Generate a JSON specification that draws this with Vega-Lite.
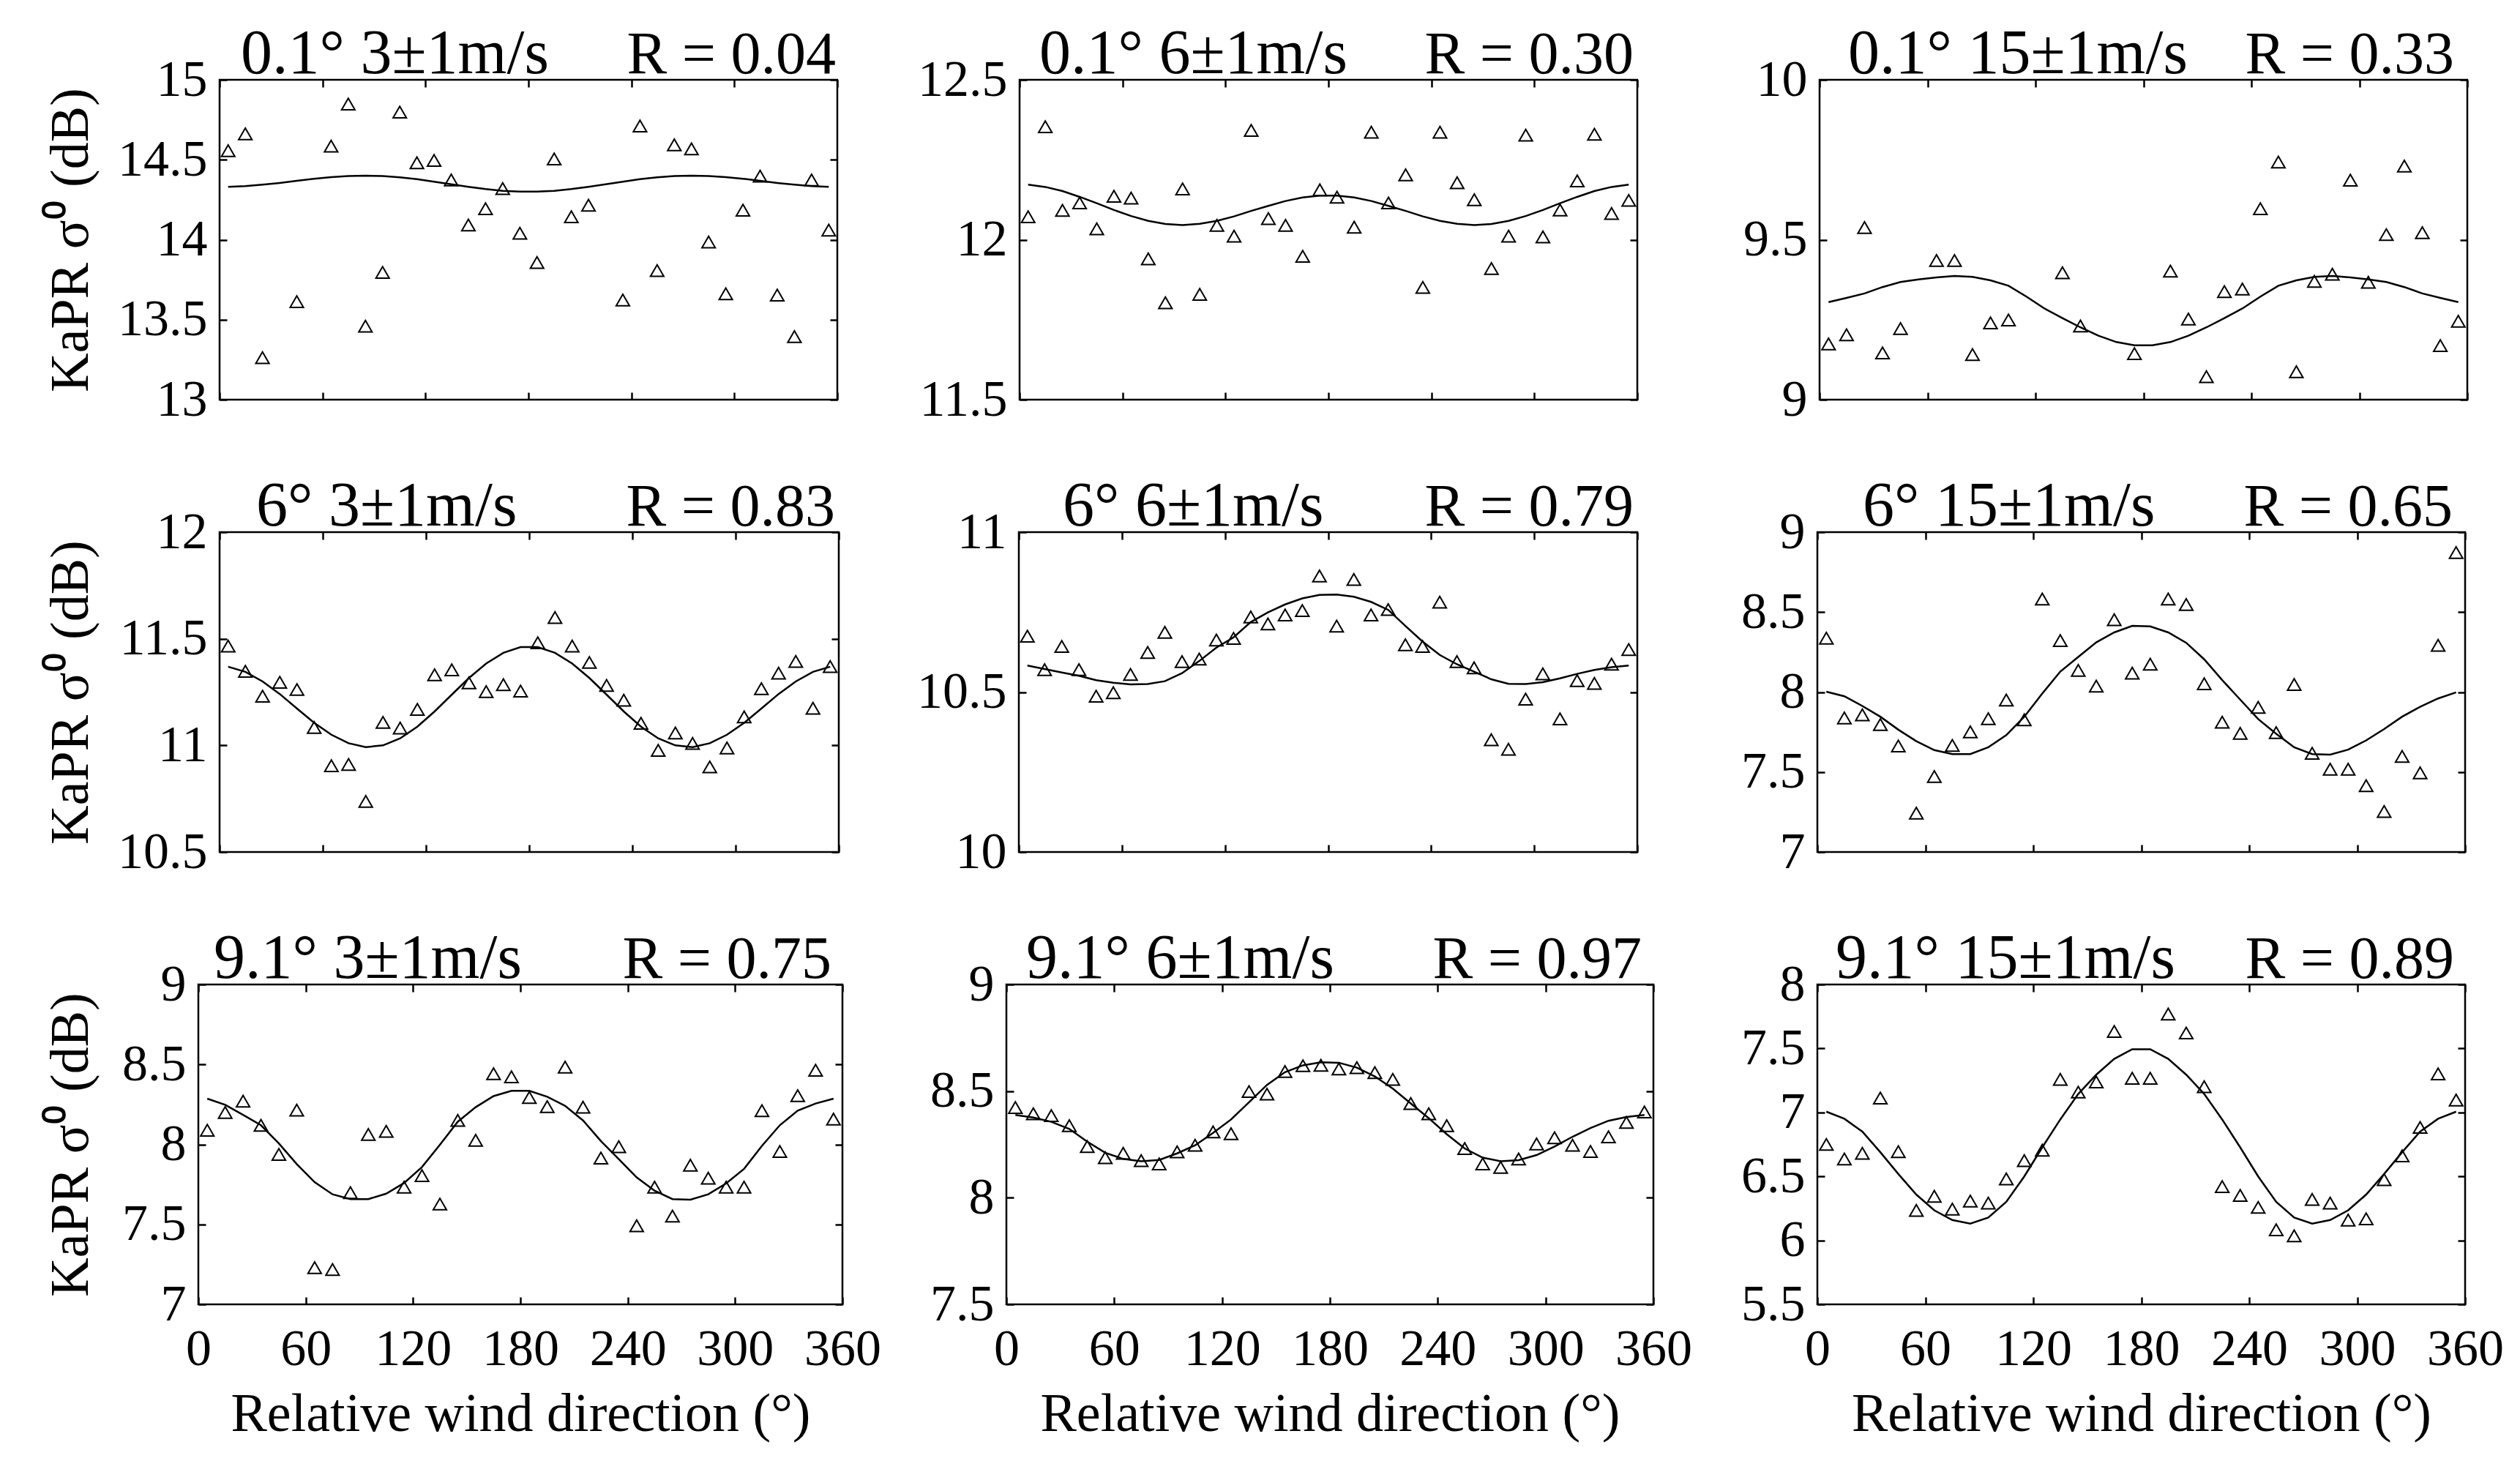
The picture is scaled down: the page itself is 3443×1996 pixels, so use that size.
{
  "$schema": "https://vega.github.io/schema/vega-lite/v6.json",
  "background": "white",
  "padding": {"left": 0, "top": 29, "right": 0, "bottom": 0},
  "datasets": {
    "pts1": [{"dir":5,"s":14.557},{"dir":15,"s":14.662},{"dir":25,"s":13.263},{"dir":45,"s":13.613},{"dir":65,"s":14.585},{"dir":75,"s":14.848},{"dir":85,"s":13.459},{"dir":95,"s":13.796},{"dir":105,"s":14.798},{"dir":115,"s":14.481},{"dir":125,"s":14.496},{"dir":135,"s":14.374},{"dir":145,"s":14.092},{"dir":155,"s":14.194},{"dir":165,"s":14.32},{"dir":175,"s":14.041},{"dir":185,"s":13.858},{"dir":195,"s":14.505},{"dir":205,"s":14.144},{"dir":215,"s":14.216},{"dir":235,"s":13.623},{"dir":245,"s":14.711},{"dir":255,"s":13.807},{"dir":265,"s":14.593},{"dir":275,"s":14.568},{"dir":285,"s":13.986},{"dir":295,"s":13.662},{"dir":305,"s":14.185},{"dir":315,"s":14.398},{"dir":325,"s":13.654},{"dir":335,"s":13.394},{"dir":345,"s":14.374},{"dir":355,"s":14.06}],
    "fit1": [{"dir":5,"s":14.331},{"dir":15,"s":14.335},{"dir":25,"s":14.344},{"dir":35,"s":14.355},{"dir":45,"s":14.368},{"dir":55,"s":14.381},{"dir":65,"s":14.391},{"dir":75,"s":14.398},{"dir":85,"s":14.401},{"dir":95,"s":14.398},{"dir":105,"s":14.39},{"dir":115,"s":14.379},{"dir":125,"s":14.363},{"dir":135,"s":14.347},{"dir":145,"s":14.331},{"dir":155,"s":14.317},{"dir":165,"s":14.306},{"dir":175,"s":14.301},{"dir":185,"s":14.301},{"dir":195,"s":14.306},{"dir":205,"s":14.317},{"dir":215,"s":14.331},{"dir":225,"s":14.347},{"dir":235,"s":14.363},{"dir":245,"s":14.379},{"dir":255,"s":14.39},{"dir":265,"s":14.398},{"dir":275,"s":14.401},{"dir":285,"s":14.398},{"dir":295,"s":14.391},{"dir":305,"s":14.381},{"dir":315,"s":14.368},{"dir":325,"s":14.355},{"dir":335,"s":14.344},{"dir":345,"s":14.335},{"dir":355,"s":14.331}],
    "pts2": [{"dir":5,"s":12.072},{"dir":15,"s":12.353},{"dir":25,"s":12.092},{"dir":35,"s":12.115},{"dir":45,"s":12.034},{"dir":55,"s":12.136},{"dir":65,"s":12.13},{"dir":75,"s":11.94},{"dir":85,"s":11.803},{"dir":95,"s":12.159},{"dir":105,"s":11.829},{"dir":115,"s":12.045},{"dir":125,"s":12.011},{"dir":135,"s":12.342},{"dir":145,"s":12.066},{"dir":155,"s":12.045},{"dir":165,"s":11.948},{"dir":175,"s":12.156},{"dir":185,"s":12.133},{"dir":195,"s":12.039},{"dir":205,"s":12.336},{"dir":215,"s":12.115},{"dir":225,"s":12.203},{"dir":235,"s":11.851},{"dir":245,"s":12.336},{"dir":255,"s":12.178},{"dir":265,"s":12.125},{"dir":275,"s":11.91},{"dir":285,"s":12.011},{"dir":295,"s":12.327},{"dir":305,"s":12.009},{"dir":315,"s":12.093},{"dir":325,"s":12.184},{"dir":335,"s":12.33},{"dir":345,"s":12.082},{"dir":355,"s":12.123}],
    "fit2": [{"dir":5,"s":12.172},{"dir":15,"s":12.165},{"dir":25,"s":12.152},{"dir":35,"s":12.134},{"dir":45,"s":12.114},{"dir":55,"s":12.093},{"dir":65,"s":12.074},{"dir":75,"s":12.059},{"dir":85,"s":12.049},{"dir":95,"s":12.046},{"dir":105,"s":12.05},{"dir":115,"s":12.059},{"dir":125,"s":12.073},{"dir":135,"s":12.09},{"dir":145,"s":12.106},{"dir":155,"s":12.121},{"dir":165,"s":12.132},{"dir":175,"s":12.138},{"dir":185,"s":12.138},{"dir":195,"s":12.132},{"dir":205,"s":12.121},{"dir":215,"s":12.106},{"dir":225,"s":12.09},{"dir":235,"s":12.073},{"dir":245,"s":12.059},{"dir":255,"s":12.05},{"dir":265,"s":12.046},{"dir":275,"s":12.049},{"dir":285,"s":12.059},{"dir":295,"s":12.074},{"dir":305,"s":12.093},{"dir":315,"s":12.114},{"dir":325,"s":12.134},{"dir":335,"s":12.152},{"dir":345,"s":12.165},{"dir":355,"s":12.172}],
    "pts3": [{"dir":5,"s":9.174},{"dir":15,"s":9.203},{"dir":25,"s":9.538},{"dir":35,"s":9.146},{"dir":45,"s":9.222},{"dir":65,"s":9.435},{"dir":75,"s":9.435},{"dir":85,"s":9.141},{"dir":95,"s":9.24},{"dir":105,"s":9.249},{"dir":135,"s":9.397},{"dir":145,"s":9.23},{"dir":175,"s":9.144},{"dir":195,"s":9.402},{"dir":205,"s":9.252},{"dir":215,"s":9.072},{"dir":225,"s":9.338},{"dir":235,"s":9.346},{"dir":245,"s":9.597},{"dir":255,"s":9.743},{"dir":265,"s":9.087},{"dir":275,"s":9.37},{"dir":285,"s":9.392},{"dir":295,"s":9.686},{"dir":305,"s":9.367},{"dir":315,"s":9.516},{"dir":325,"s":9.73},{"dir":335,"s":9.522},{"dir":345,"s":9.169},{"dir":355,"s":9.245}],
    "fit3": [{"dir":5,"s":9.305},{"dir":15,"s":9.318},{"dir":25,"s":9.332},{"dir":35,"s":9.352},{"dir":45,"s":9.368},{"dir":55,"s":9.376},{"dir":65,"s":9.382},{"dir":75,"s":9.387},{"dir":85,"s":9.384},{"dir":95,"s":9.373},{"dir":105,"s":9.356},{"dir":115,"s":9.322},{"dir":125,"s":9.285},{"dir":135,"s":9.255},{"dir":145,"s":9.226},{"dir":155,"s":9.2},{"dir":165,"s":9.18},{"dir":175,"s":9.17},{"dir":185,"s":9.17},{"dir":195,"s":9.18},{"dir":205,"s":9.2},{"dir":215,"s":9.226},{"dir":225,"s":9.255},{"dir":235,"s":9.285},{"dir":245,"s":9.322},{"dir":255,"s":9.356},{"dir":265,"s":9.373},{"dir":275,"s":9.384},{"dir":285,"s":9.387},{"dir":295,"s":9.382},{"dir":305,"s":9.376},{"dir":315,"s":9.368},{"dir":325,"s":9.352},{"dir":335,"s":9.332},{"dir":345,"s":9.318},{"dir":355,"s":9.305}],
    "pts4": [{"dir":5,"s":11.466},{"dir":15,"s":11.347},{"dir":25,"s":11.231},{"dir":35,"s":11.296},{"dir":45,"s":11.262},{"dir":55,"s":11.084},{"dir":65,"s":10.905},{"dir":75,"s":10.911},{"dir":85,"s":10.737},{"dir":95,"s":11.108},{"dir":105,"s":11.081},{"dir":115,"s":11.169},{"dir":125,"s":11.331},{"dir":135,"s":11.354},{"dir":145,"s":11.293},{"dir":155,"s":11.252},{"dir":165,"s":11.285},{"dir":175,"s":11.255},{"dir":185,"s":11.481},{"dir":195,"s":11.6},{"dir":205,"s":11.466},{"dir":215,"s":11.389},{"dir":225,"s":11.281},{"dir":235,"s":11.212},{"dir":245,"s":11.104},{"dir":255,"s":10.977},{"dir":265,"s":11.058},{"dir":275,"s":11.009},{"dir":285,"s":10.899},{"dir":295,"s":10.988},{"dir":305,"s":11.134},{"dir":315,"s":11.266},{"dir":325,"s":11.339},{"dir":335,"s":11.394},{"dir":345,"s":11.174},{"dir":355,"s":11.37}],
    "fit4": [{"dir":5,"s":11.369},{"dir":15,"s":11.345},{"dir":25,"s":11.3},{"dir":35,"s":11.241},{"dir":45,"s":11.173},{"dir":55,"s":11.106},{"dir":65,"s":11.05},{"dir":75,"s":11.01},{"dir":85,"s":10.992},{"dir":95,"s":11.0},{"dir":105,"s":11.033},{"dir":115,"s":11.088},{"dir":125,"s":11.159},{"dir":135,"s":11.238},{"dir":145,"s":11.316},{"dir":155,"s":11.384},{"dir":165,"s":11.434},{"dir":175,"s":11.461},{"dir":185,"s":11.461},{"dir":195,"s":11.434},{"dir":205,"s":11.384},{"dir":215,"s":11.316},{"dir":225,"s":11.238},{"dir":235,"s":11.159},{"dir":245,"s":11.088},{"dir":255,"s":11.033},{"dir":265,"s":11.0},{"dir":275,"s":10.992},{"dir":285,"s":11.01},{"dir":295,"s":11.05},{"dir":305,"s":11.106},{"dir":315,"s":11.173},{"dir":325,"s":11.241},{"dir":335,"s":11.3},{"dir":345,"s":11.345},{"dir":355,"s":11.369}],
    "pts5": [{"dir":5,"s":10.675},{"dir":15,"s":10.57},{"dir":25,"s":10.643},{"dir":35,"s":10.57},{"dir":45,"s":10.487},{"dir":55,"s":10.498},{"dir":65,"s":10.555},{"dir":75,"s":10.624},{"dir":85,"s":10.687},{"dir":95,"s":10.595},{"dir":105,"s":10.603},{"dir":115,"s":10.663},{"dir":125,"s":10.668},{"dir":135,"s":10.735},{"dir":145,"s":10.713},{"dir":155,"s":10.741},{"dir":165,"s":10.755},{"dir":175,"s":10.863},{"dir":185,"s":10.706},{"dir":195,"s":10.852},{"dir":205,"s":10.741},{"dir":215,"s":10.758},{"dir":225,"s":10.648},{"dir":235,"s":10.643},{"dir":245,"s":10.781},{"dir":255,"s":10.595},{"dir":265,"s":10.576},{"dir":275,"s":10.351},{"dir":285,"s":10.321},{"dir":295,"s":10.478},{"dir":305,"s":10.557},{"dir":315,"s":10.416},{"dir":325,"s":10.536},{"dir":335,"s":10.527},{"dir":345,"s":10.587},{"dir":355,"s":10.633}],
    "fit5": [{"dir":5,"s":10.583},{"dir":15,"s":10.572},{"dir":25,"s":10.561},{"dir":35,"s":10.551},{"dir":45,"s":10.537},{"dir":55,"s":10.529},{"dir":65,"s":10.524},{"dir":75,"s":10.525},{"dir":85,"s":10.534},{"dir":95,"s":10.559},{"dir":105,"s":10.597},{"dir":115,"s":10.639},{"dir":125,"s":10.671},{"dir":135,"s":10.719},{"dir":145,"s":10.749},{"dir":155,"s":10.774},{"dir":165,"s":10.793},{"dir":175,"s":10.804},{"dir":185,"s":10.805},{"dir":195,"s":10.798},{"dir":205,"s":10.782},{"dir":215,"s":10.757},{"dir":225,"s":10.707},{"dir":235,"s":10.658},{"dir":245,"s":10.616},{"dir":255,"s":10.587},{"dir":265,"s":10.564},{"dir":275,"s":10.54},{"dir":285,"s":10.526},{"dir":295,"s":10.525},{"dir":305,"s":10.531},{"dir":315,"s":10.543},{"dir":325,"s":10.557},{"dir":335,"s":10.569},{"dir":345,"s":10.578},{"dir":355,"s":10.583}],
    "pts6": [{"dir":5,"s":8.337},{"dir":15,"s":7.838},{"dir":25,"s":7.858},{"dir":35,"s":7.797},{"dir":45,"s":7.663},{"dir":55,"s":7.243},{"dir":65,"s":7.472},{"dir":75,"s":7.667},{"dir":85,"s":7.751},{"dir":95,"s":7.834},{"dir":105,"s":7.95},{"dir":115,"s":7.827},{"dir":125,"s":8.582},{"dir":135,"s":8.322},{"dir":145,"s":8.136},{"dir":155,"s":8.037},{"dir":165,"s":8.453},{"dir":175,"s":8.118},{"dir":185,"s":8.174},{"dir":195,"s":8.582},{"dir":205,"s":8.548},{"dir":215,"s":8.052},{"dir":225,"s":7.812},{"dir":235,"s":7.742},{"dir":245,"s":7.904},{"dir":255,"s":7.747},{"dir":265,"s":8.047},{"dir":275,"s":7.617},{"dir":285,"s":7.518},{"dir":295,"s":7.518},{"dir":305,"s":7.415},{"dir":315,"s":7.253},{"dir":325,"s":7.598},{"dir":335,"s":7.495},{"dir":345,"s":8.292},{"dir":355,"s":8.872}],
    "fit6": [{"dir":5,"s":8.002},{"dir":15,"s":7.974},{"dir":25,"s":7.913},{"dir":35,"s":7.846},{"dir":45,"s":7.765},{"dir":55,"s":7.693},{"dir":65,"s":7.637},{"dir":75,"s":7.612},{"dir":85,"s":7.612},{"dir":95,"s":7.655},{"dir":105,"s":7.731},{"dir":115,"s":7.846},{"dir":125,"s":7.991},{"dir":135,"s":8.128},{"dir":145,"s":8.22},{"dir":155,"s":8.311},{"dir":165,"s":8.373},{"dir":175,"s":8.414},{"dir":185,"s":8.411},{"dir":195,"s":8.373},{"dir":205,"s":8.308},{"dir":215,"s":8.205},{"dir":225,"s":8.075},{"dir":235,"s":7.953},{"dir":245,"s":7.831},{"dir":255,"s":7.739},{"dir":265,"s":7.655},{"dir":275,"s":7.612},{"dir":285,"s":7.609},{"dir":295,"s":7.64},{"dir":305,"s":7.698},{"dir":315,"s":7.769},{"dir":325,"s":7.846},{"dir":335,"s":7.908},{"dir":345,"s":7.96},{"dir":355,"s":7.998}],
    "pts7": [{"dir":5,"s":8.089},{"dir":15,"s":8.2},{"dir":25,"s":8.271},{"dir":35,"s":8.12},{"dir":45,"s":7.938},{"dir":55,"s":8.215},{"dir":65,"s":7.229},{"dir":75,"s":7.218},{"dir":85,"s":7.698},{"dir":95,"s":8.062},{"dir":105,"s":8.082},{"dir":115,"s":7.733},{"dir":125,"s":7.805},{"dir":135,"s":7.627},{"dir":145,"s":8.15},{"dir":155,"s":8.026},{"dir":165,"s":8.442},{"dir":175,"s":8.423},{"dir":185,"s":8.294},{"dir":195,"s":8.236},{"dir":205,"s":8.483},{"dir":215,"s":8.233},{"dir":225,"s":7.915},{"dir":235,"s":7.986},{"dir":245,"s":7.491},{"dir":255,"s":7.733},{"dir":265,"s":7.552},{"dir":275,"s":7.87},{"dir":285,"s":7.789},{"dir":295,"s":7.733},{"dir":305,"s":7.733},{"dir":315,"s":8.211},{"dir":325,"s":7.956},{"dir":335,"s":8.305},{"dir":345,"s":8.464},{"dir":355,"s":8.158}],
    "fit7": [{"dir":5,"s":8.286},{"dir":15,"s":8.248},{"dir":25,"s":8.185},{"dir":35,"s":8.12},{"dir":45,"s":8.006},{"dir":55,"s":7.877},{"dir":65,"s":7.764},{"dir":75,"s":7.688},{"dir":85,"s":7.658},{"dir":95,"s":7.658},{"dir":105,"s":7.692},{"dir":115,"s":7.759},{"dir":125,"s":7.859},{"dir":135,"s":7.998},{"dir":145,"s":8.142},{"dir":155,"s":8.233},{"dir":165,"s":8.302},{"dir":175,"s":8.335},{"dir":185,"s":8.335},{"dir":195,"s":8.298},{"dir":205,"s":8.241},{"dir":215,"s":8.15},{"dir":225,"s":8.021},{"dir":235,"s":7.908},{"dir":245,"s":7.794},{"dir":255,"s":7.711},{"dir":265,"s":7.658},{"dir":275,"s":7.655},{"dir":285,"s":7.688},{"dir":295,"s":7.756},{"dir":305,"s":7.847},{"dir":315,"s":7.991},{"dir":325,"s":8.12},{"dir":335,"s":8.211},{"dir":345,"s":8.256},{"dir":355,"s":8.286}],
    "pts8": [{"dir":5,"s":8.423},{"dir":15,"s":8.394},{"dir":25,"s":8.385},{"dir":35,"s":8.338},{"dir":45,"s":8.24},{"dir":55,"s":8.188},{"dir":65,"s":8.208},{"dir":75,"s":8.174},{"dir":85,"s":8.159},{"dir":95,"s":8.215},{"dir":105,"s":8.246},{"dir":115,"s":8.309},{"dir":125,"s":8.3},{"dir":135,"s":8.498},{"dir":145,"s":8.486},{"dir":155,"s":8.592},{"dir":165,"s":8.619},{"dir":175,"s":8.621},{"dir":185,"s":8.604},{"dir":195,"s":8.61},{"dir":205,"s":8.587},{"dir":215,"s":8.555},{"dir":225,"s":8.442},{"dir":235,"s":8.394},{"dir":245,"s":8.338},{"dir":255,"s":8.231},{"dir":265,"s":8.159},{"dir":275,"s":8.142},{"dir":285,"s":8.182},{"dir":295,"s":8.252},{"dir":305,"s":8.281},{"dir":315,"s":8.246},{"dir":325,"s":8.217},{"dir":335,"s":8.286},{"dir":345,"s":8.353},{"dir":355,"s":8.402}],
    "fit8": [{"dir":5,"s":8.388},{"dir":15,"s":8.376},{"dir":25,"s":8.356},{"dir":35,"s":8.323},{"dir":45,"s":8.263},{"dir":55,"s":8.211},{"dir":65,"s":8.182},{"dir":75,"s":8.171},{"dir":85,"s":8.177},{"dir":95,"s":8.208},{"dir":105,"s":8.246},{"dir":115,"s":8.304},{"dir":125,"s":8.367},{"dir":135,"s":8.448},{"dir":145,"s":8.529},{"dir":155,"s":8.589},{"dir":165,"s":8.621},{"dir":175,"s":8.635},{"dir":185,"s":8.633},{"dir":195,"s":8.61},{"dir":205,"s":8.569},{"dir":215,"s":8.512},{"dir":225,"s":8.442},{"dir":235,"s":8.373},{"dir":245,"s":8.298},{"dir":255,"s":8.231},{"dir":265,"s":8.188},{"dir":275,"s":8.171},{"dir":285,"s":8.176},{"dir":295,"s":8.2},{"dir":305,"s":8.24},{"dir":315,"s":8.286},{"dir":325,"s":8.327},{"dir":335,"s":8.361},{"dir":345,"s":8.379},{"dir":355,"s":8.388}],
    "pts9": [{"dir":5,"s":6.75},{"dir":15,"s":6.636},{"dir":25,"s":6.68},{"dir":35,"s":7.112},{"dir":45,"s":6.693},{"dir":55,"s":6.235},{"dir":65,"s":6.345},{"dir":75,"s":6.244},{"dir":85,"s":6.307},{"dir":95,"s":6.292},{"dir":105,"s":6.481},{"dir":115,"s":6.623},{"dir":125,"s":6.705},{"dir":135,"s":7.258},{"dir":145,"s":7.159},{"dir":155,"s":7.239},{"dir":165,"s":7.633},{"dir":175,"s":7.267},{"dir":185,"s":7.267},{"dir":195,"s":7.769},{"dir":205,"s":7.621},{"dir":215,"s":7.201},{"dir":225,"s":6.42},{"dir":235,"s":6.352},{"dir":245,"s":6.258},{"dir":255,"s":6.083},{"dir":265,"s":6.036},{"dir":275,"s":6.32},{"dir":285,"s":6.292},{"dir":295,"s":6.159},{"dir":305,"s":6.169},{"dir":315,"s":6.475},{"dir":325,"s":6.661},{"dir":335,"s":6.883},{"dir":345,"s":7.301},{"dir":355,"s":7.097}],
    "fit9": [{"dir":5,"s":7.006},{"dir":15,"s":6.951},{"dir":25,"s":6.85},{"dir":35,"s":6.689},{"dir":45,"s":6.519},{"dir":55,"s":6.358},{"dir":65,"s":6.235},{"dir":75,"s":6.159},{"dir":85,"s":6.131},{"dir":95,"s":6.178},{"dir":105,"s":6.301},{"dir":115,"s":6.5},{"dir":125,"s":6.727},{"dir":135,"s":6.945},{"dir":145,"s":7.144},{"dir":155,"s":7.295},{"dir":165,"s":7.419},{"dir":175,"s":7.494},{"dir":185,"s":7.494},{"dir":195,"s":7.419},{"dir":205,"s":7.295},{"dir":215,"s":7.144},{"dir":225,"s":6.945},{"dir":235,"s":6.727},{"dir":245,"s":6.5},{"dir":255,"s":6.301},{"dir":265,"s":6.178},{"dir":275,"s":6.131},{"dir":285,"s":6.159},{"dir":295,"s":6.235},{"dir":305,"s":6.358},{"dir":315,"s":6.519},{"dir":325,"s":6.689},{"dir":335,"s":6.85},{"dir":345,"s":6.951},{"dir":355,"s":7.006}]
  },
  "concat": [
    {
      "hconcat": [
        {"width": 51, "height": 437, "data": {"values": []}, "mark": {"type": "point"}, "view": {"stroke": null}},
        {
          "width": 844, "height": 437,
          "layer": [
            {"data": {"name": "pts1"}, "mark": {"type": "point"},
             "encoding": {
               "x": {"field": "dir", "type": "quantitative", "scale": {"domain": [0, 360], "nice": false, "zero": false}, "axis": {"orient": "bottom", "values": [0,60,120,180,240,300,360], "labels": false, "title": null}},
               "y": {"field": "s", "type": "quantitative", "scale": {"domain": [13, 15], "nice": false, "zero": false}, "axis": {"orient": "left", "values": [13,13.5,14,14.5,15], "format": "~g", "title": "KaPR σ⁰ (dB)"}}}},
            {"data": {"name": "fit1"}, "mark": {"type": "line"},
             "encoding": {
               "x": {"field": "dir", "type": "quantitative", "axis": {"orient": "top", "values": [0,60,120,180,240,300,360], "labels": false, "title": null}},
               "y": {"field": "s", "type": "quantitative", "axis": {"orient": "right", "values": [13,13.5,14,14.5,15], "labels": false, "title": null}}}},
            {"data": {"values": [{"t": "0.1° 3±1m/s"}]}, "mark": {"type": "text", "align": "left", "dx": 29, "fontSize": 86},
             "encoding": {"x": {"datum": 0, "type": "quantitative", "axis": null}, "y": {"datum": 15, "type": "quantitative", "axis": null}, "text": {"field": "t"}}},
            {"data": {"values": [{"t": "R = 0.04"}]}, "mark": {"type": "text", "align": "right", "dx": -2},
             "encoding": {"x": {"datum": 360, "type": "quantitative", "axis": null}, "y": {"datum": 15, "type": "quantitative", "axis": null}, "text": {"field": "t"}}}
          ],
          "resolve": {"axis": {"x": "independent", "y": "independent"}}
        },
        {
          "width": 844, "height": 437,
          "layer": [
            {"data": {"name": "pts2"}, "mark": {"type": "point"},
             "encoding": {
               "x": {"field": "dir", "type": "quantitative", "scale": {"domain": [0, 360], "nice": false, "zero": false}, "axis": {"orient": "bottom", "values": [0,60,120,180,240,300,360], "labels": false, "title": null}},
               "y": {"field": "s", "type": "quantitative", "scale": {"domain": [11.5, 12.5], "nice": false, "zero": false}, "axis": {"orient": "left", "values": [11.5,12,12.5], "format": "~g", "title": null}}}},
            {"data": {"name": "fit2"}, "mark": {"type": "line"},
             "encoding": {
               "x": {"field": "dir", "type": "quantitative", "axis": {"orient": "top", "values": [0,60,120,180,240,300,360], "labels": false, "title": null}},
               "y": {"field": "s", "type": "quantitative", "axis": {"orient": "right", "values": [11.5,12,12.5], "labels": false, "title": null}}}},
            {"data": {"values": [{"t": "0.1° 6±1m/s"}]}, "mark": {"type": "text", "align": "left", "dx": 27, "fontSize": 86},
             "encoding": {"x": {"datum": 0, "type": "quantitative", "axis": null}, "y": {"datum": 12.5, "type": "quantitative", "axis": null}, "text": {"field": "t"}}},
            {"data": {"values": [{"t": "R = 0.30"}]}, "mark": {"type": "text", "align": "right", "dx": -5},
             "encoding": {"x": {"datum": 360, "type": "quantitative", "axis": null}, "y": {"datum": 12.5, "type": "quantitative", "axis": null}, "text": {"field": "t"}}}
          ],
          "resolve": {"axis": {"x": "independent", "y": "independent"}}
        },
        {
          "width": 885, "height": 437,
          "layer": [
            {"data": {"name": "pts3"}, "mark": {"type": "point"},
             "encoding": {
               "x": {"field": "dir", "type": "quantitative", "scale": {"domain": [0, 360], "nice": false, "zero": false}, "axis": {"orient": "bottom", "values": [0,60,120,180,240,300,360], "labels": false, "title": null}},
               "y": {"field": "s", "type": "quantitative", "scale": {"domain": [9, 10], "nice": false, "zero": false}, "axis": {"orient": "left", "values": [9,9.5,10], "format": "~g", "title": null}}}},
            {"data": {"name": "fit3"}, "mark": {"type": "line"},
             "encoding": {
               "x": {"field": "dir", "type": "quantitative", "axis": {"orient": "top", "values": [0,60,120,180,240,300,360], "labels": false, "title": null}},
               "y": {"field": "s", "type": "quantitative", "axis": {"orient": "right", "values": [9,9.5,10], "labels": false, "title": null}}}},
            {"data": {"values": [{"t": "0.1° 15±1m/s"}]}, "mark": {"type": "text", "align": "left", "dx": 39, "fontSize": 86},
             "encoding": {"x": {"datum": 0, "type": "quantitative", "axis": null}, "y": {"datum": 10, "type": "quantitative", "axis": null}, "text": {"field": "t"}}},
            {"data": {"values": [{"t": "R = 0.33"}]}, "mark": {"type": "text", "align": "right", "dx": -18},
             "encoding": {"x": {"datum": 360, "type": "quantitative", "axis": null}, "y": {"datum": 10, "type": "quantitative", "axis": null}, "text": {"field": "t"}}}
          ],
          "resolve": {"axis": {"x": "independent", "y": "independent"}}
        }
      ],
      "spacing": 249, "bounds": "flush"
    },
    {
      "hconcat": [
        {"width": 54, "height": 437, "data": {"values": []}, "mark": {"type": "point"}, "view": {"stroke": null}},
        {
          "width": 846, "height": 437,
          "layer": [
            {"data": {"name": "pts4"}, "mark": {"type": "point"},
             "encoding": {
               "x": {"field": "dir", "type": "quantitative", "scale": {"domain": [0, 360], "nice": false, "zero": false}, "axis": {"orient": "bottom", "values": [0,60,120,180,240,300,360], "labels": false, "title": null}},
               "y": {"field": "s", "type": "quantitative", "scale": {"domain": [10.5, 12], "nice": false, "zero": false}, "axis": {"orient": "left", "values": [10.5,11,11.5,12], "format": "~g", "title": "KaPR σ⁰ (dB)"}}}},
            {"data": {"name": "fit4"}, "mark": {"type": "line"},
             "encoding": {
               "x": {"field": "dir", "type": "quantitative", "axis": {"orient": "top", "values": [0,60,120,180,240,300,360], "labels": false, "title": null}},
               "y": {"field": "s", "type": "quantitative", "axis": {"orient": "right", "values": [10.5,11,11.5,12], "labels": false, "title": null}}}},
            {"data": {"values": [{"t": "6° 3±1m/s"}]}, "mark": {"type": "text", "align": "left", "dx": 50, "fontSize": 86},
             "encoding": {"x": {"datum": 0, "type": "quantitative", "axis": null}, "y": {"datum": 12, "type": "quantitative", "axis": null}, "text": {"field": "t"}}},
            {"data": {"values": [{"t": "R = 0.83"}]}, "mark": {"type": "text", "align": "right", "dx": -5},
             "encoding": {"x": {"datum": 360, "type": "quantitative", "axis": null}, "y": {"datum": 12, "type": "quantitative", "axis": null}, "text": {"field": "t"}}}
          ],
          "resolve": {"axis": {"x": "independent", "y": "independent"}}
        },
        {
          "width": 845, "height": 437,
          "layer": [
            {"data": {"name": "pts5"}, "mark": {"type": "point"},
             "encoding": {
               "x": {"field": "dir", "type": "quantitative", "scale": {"domain": [0, 360], "nice": false, "zero": false}, "axis": {"orient": "bottom", "values": [0,60,120,180,240,300,360], "labels": false, "title": null}},
               "y": {"field": "s", "type": "quantitative", "scale": {"domain": [10, 11], "nice": false, "zero": false}, "axis": {"orient": "left", "values": [10,10.5,11], "format": "~g", "title": null}}}},
            {"data": {"name": "fit5"}, "mark": {"type": "line"},
             "encoding": {
               "x": {"field": "dir", "type": "quantitative", "axis": {"orient": "top", "values": [0,60,120,180,240,300,360], "labels": false, "title": null}},
               "y": {"field": "s", "type": "quantitative", "axis": {"orient": "right", "values": [10,10.5,11], "labels": false, "title": null}}}},
            {"data": {"values": [{"t": "6° 6±1m/s"}]}, "mark": {"type": "text", "align": "left", "dx": 60, "fontSize": 86},
             "encoding": {"x": {"datum": 0, "type": "quantitative", "axis": null}, "y": {"datum": 11, "type": "quantitative", "axis": null}, "text": {"field": "t"}}},
            {"data": {"values": [{"t": "R = 0.79"}]}, "mark": {"type": "text", "align": "right", "dx": -5},
             "encoding": {"x": {"datum": 360, "type": "quantitative", "axis": null}, "y": {"datum": 11, "type": "quantitative", "axis": null}, "text": {"field": "t"}}}
          ],
          "resolve": {"axis": {"x": "independent", "y": "independent"}}
        },
        {
          "width": 885, "height": 437,
          "layer": [
            {"data": {"name": "pts6"}, "mark": {"type": "point"},
             "encoding": {
               "x": {"field": "dir", "type": "quantitative", "scale": {"domain": [0, 360], "nice": false, "zero": false}, "axis": {"orient": "bottom", "values": [0,60,120,180,240,300,360], "labels": false, "title": null}},
               "y": {"field": "s", "type": "quantitative", "scale": {"domain": [7, 9], "nice": false, "zero": false}, "axis": {"orient": "left", "values": [7,7.5,8,8.5,9], "format": "~g", "title": null}}}},
            {"data": {"name": "fit6"}, "mark": {"type": "line"},
             "encoding": {
               "x": {"field": "dir", "type": "quantitative", "axis": {"orient": "top", "values": [0,60,120,180,240,300,360], "labels": false, "title": null}},
               "y": {"field": "s", "type": "quantitative", "axis": {"orient": "right", "values": [7,7.5,8,8.5,9], "labels": false, "title": null}}}},
            {"data": {"values": [{"t": "6° 15±1m/s"}]}, "mark": {"type": "text", "align": "left", "dx": 62, "fontSize": 86},
             "encoding": {"x": {"datum": 0, "type": "quantitative", "axis": null}, "y": {"datum": 9, "type": "quantitative", "axis": null}, "text": {"field": "t"}}},
            {"data": {"values": [{"t": "R = 0.65"}]}, "mark": {"type": "text", "align": "right", "dx": -17},
             "encoding": {"x": {"datum": 360, "type": "quantitative", "axis": null}, "y": {"datum": 9, "type": "quantitative", "axis": null}, "text": {"field": "t"}}}
          ],
          "resolve": {"axis": {"x": "independent", "y": "independent"}}
        }
      ],
      "spacing": 246, "bounds": "flush"
    },
    {
      "hconcat": [
        {"width": 47, "height": 437, "data": {"values": []}, "mark": {"type": "point"}, "view": {"stroke": null}},
        {
          "width": 880, "height": 437,
          "layer": [
            {"data": {"name": "pts7"}, "mark": {"type": "point"},
             "encoding": {
               "x": {"field": "dir", "type": "quantitative", "scale": {"domain": [0, 360], "nice": false, "zero": false}, "axis": {"orient": "bottom", "values": [0,60,120,180,240,300,360], "title": "Relative wind direction (°)"}},
               "y": {"field": "s", "type": "quantitative", "scale": {"domain": [7, 9], "nice": false, "zero": false}, "axis": {"orient": "left", "values": [7,7.5,8,8.5,9], "format": "~g", "title": "KaPR σ⁰ (dB)", "minExtent": 110.5}}}},
            {"data": {"name": "fit7"}, "mark": {"type": "line"},
             "encoding": {
               "x": {"field": "dir", "type": "quantitative", "axis": {"orient": "top", "values": [0,60,120,180,240,300,360], "labels": false, "title": null}},
               "y": {"field": "s", "type": "quantitative", "axis": {"orient": "right", "values": [7,7.5,8,8.5,9], "labels": false, "title": null}}}},
            {"data": {"values": [{"t": "9.1° 3±1m/s"}]}, "mark": {"type": "text", "align": "left", "dx": 21, "fontSize": 86},
             "encoding": {"x": {"datum": 0, "type": "quantitative", "axis": null}, "y": {"datum": 9, "type": "quantitative", "axis": null}, "text": {"field": "t"}}},
            {"data": {"values": [{"t": "R = 0.75"}]}, "mark": {"type": "text", "align": "right", "dx": -15},
             "encoding": {"x": {"datum": 360, "type": "quantitative", "axis": null}, "y": {"datum": 9, "type": "quantitative", "axis": null}, "text": {"field": "t"}}}
          ],
          "resolve": {"axis": {"x": "independent", "y": "independent"}}
        },
        {
          "width": 884, "height": 437,
          "layer": [
            {"data": {"name": "pts8"}, "mark": {"type": "point"},
             "encoding": {
               "x": {"field": "dir", "type": "quantitative", "scale": {"domain": [0, 360], "nice": false, "zero": false}, "axis": {"orient": "bottom", "values": [0,60,120,180,240,300,360], "title": "Relative wind direction (°)"}},
               "y": {"field": "s", "type": "quantitative", "scale": {"domain": [7.5, 9], "nice": false, "zero": false}, "axis": {"orient": "left", "values": [7.5,8,8.5,9], "format": "~g", "title": null}}}},
            {"data": {"name": "fit8"}, "mark": {"type": "line"},
             "encoding": {
               "x": {"field": "dir", "type": "quantitative", "axis": {"orient": "top", "values": [0,60,120,180,240,300,360], "labels": false, "title": null}},
               "y": {"field": "s", "type": "quantitative", "axis": {"orient": "right", "values": [7.5,8,8.5,9], "labels": false, "title": null}}}},
            {"data": {"values": [{"t": "9.1° 6±1m/s"}]}, "mark": {"type": "text", "align": "left", "dx": 27, "fontSize": 86},
             "encoding": {"x": {"datum": 0, "type": "quantitative", "axis": null}, "y": {"datum": 9, "type": "quantitative", "axis": null}, "text": {"field": "t"}}},
            {"data": {"values": [{"t": "R = 0.97"}]}, "mark": {"type": "text", "align": "right", "dx": -16},
             "encoding": {"x": {"datum": 360, "type": "quantitative", "axis": null}, "y": {"datum": 9, "type": "quantitative", "axis": null}, "text": {"field": "t"}}}
          ],
          "resolve": {"axis": {"x": "independent", "y": "independent"}}
        },
        {
          "width": 885, "height": 437,
          "layer": [
            {"data": {"name": "pts9"}, "mark": {"type": "point"},
             "encoding": {
               "x": {"field": "dir", "type": "quantitative", "scale": {"domain": [0, 360], "nice": false, "zero": false}, "axis": {"orient": "bottom", "values": [0,60,120,180,240,300,360], "title": "Relative wind direction (°)"}},
               "y": {"field": "s", "type": "quantitative", "scale": {"domain": [5.5, 8], "nice": false, "zero": false}, "axis": {"orient": "left", "values": [5.5,6,6.5,7,7.5,8], "format": "~g", "title": null}}}},
            {"data": {"name": "fit9"}, "mark": {"type": "line"},
             "encoding": {
               "x": {"field": "dir", "type": "quantitative", "axis": {"orient": "top", "values": [0,60,120,180,240,300,360], "labels": false, "title": null}},
               "y": {"field": "s", "type": "quantitative", "axis": {"orient": "right", "values": [5.5,6,6.5,7,7.5,8], "labels": false, "title": null}}}},
            {"data": {"values": [{"t": "9.1° 15±1m/s"}]}, "mark": {"type": "text", "align": "left", "dx": 25, "fontSize": 86},
             "encoding": {"x": {"datum": 0, "type": "quantitative", "axis": null}, "y": {"datum": 8, "type": "quantitative", "axis": null}, "text": {"field": "t"}}},
            {"data": {"values": [{"t": "R = 0.89"}]}, "mark": {"type": "text", "align": "right", "dx": -15},
             "encoding": {"x": {"datum": 360, "type": "quantitative", "axis": null}, "y": {"datum": 8, "type": "quantitative", "axis": null}, "text": {"field": "t"}}}
          ],
          "resolve": {"axis": {"x": "independent", "y": "independent"}}
        }
      ],
      "spacing": 224, "bounds": "flush"
    }
  ],
  "columns": 1,
  "align": "none",
  "spacing": 64,
  "config": {
    "font": "Liberation Serif",
    "view": {"stroke": "black", "strokeWidth": 2.5},
    "mark": {"color": "black"},
    "point": {"shape": "triangle-up", "size": 330, "filled": false, "stroke": "black", "strokeWidth": 2, "opacity": 1},
    "line": {"stroke": "black", "strokeWidth": 2.5},
    "text": {"font": "Liberation Serif", "fontSize": 82, "baseline": "alphabetic", "dy": -9, "color": "black"},
    "axis": {
      "labelFont": "Liberation Serif", "labelFontSize": 70, "labelColor": "black",
      "titleFont": "Liberation Serif", "titleFontSize": 74, "titleFontWeight": "normal", "titleColor": "black",
      "tickColor": "black", "tickSize": -10, "tickWidth": 2.5,
      "domain": false, "grid": false, "labelFlush": false, "labelOverlap": false
    },
    "axisX": {"labelPadding": 37, "titlePadding": 18},
    "axisY": {"labelPadding": 27, "titlePadding": 25}
  }
}
